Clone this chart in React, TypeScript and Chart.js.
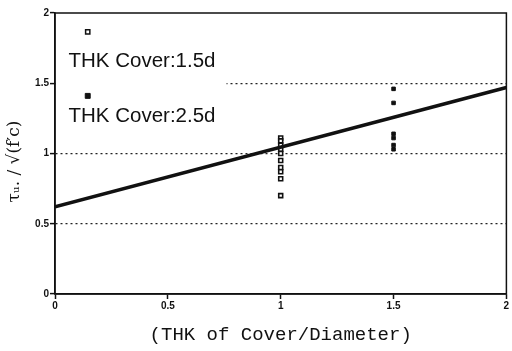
import React, { useEffect, useRef } from "react";
import { Chart, registerables } from "chart.js";

Chart.register(...registerables);

const xTicks = [0, 0.5, 1, 1.5, 2];
const yTicks = [0, 0.5, 1, 1.5, 2];
const xTickLabels = ["0", "0.5", "1", "1.5", "2"];
const yTickLabels = ["0", "0.5", "1", "1.5", "2"];

const fitX = [0, 2];
const fitY = [0.62, 1.47];

const openX = 1;
const openValues = [1.11, 1.09, 1.06, 1.03, 1.0, 0.95, 0.9, 0.87, 0.82, 0.7];

const filledX = 1.5;
const filledValues = [1.46, 1.36, 1.14, 1.11, 1.06, 1.03];

const legendLabels = ["THK Cover:1.5d", "THK Cover:2.5d"];
const legendMarkerX = [0.145, 0.145];
const legendMarkerY = [1.865, 1.41];
const legendTextY = [1.615, 1.224];

const xTitle = "(THK of Cover/Diameter)";
const yTitle = "τᵤ. / √(f′c)   ";

export default function App() {
  const ref = useRef<HTMLCanvasElement | null>(null);

  useEffect(() => {
    document.body.style.margin = "0";
    const canvas = ref.current;
    if (!canvas) return;

    const legendPlugin = {
      id: "legendPlugin",
      beforeDatasetsDraw(chart: any) {
        const { ctx, scales } = chart;
        const xs = scales.x;
        const ys = scales.y;
        ctx.save();
        ctx.fillStyle = "#fff";
        const left = chart.chartArea.left + 1;
        ctx.fillRect(left, ys.getPixelForValue(1.93), xs.getPixelForValue(0.76) - left, ys.getPixelForValue(1.1) - ys.getPixelForValue(1.93));
        ctx.fillStyle = "#111";
        ctx.font = "20.5px 'Liberation Sans'";
        ctx.textBaseline = "alphabetic";
        ctx.textAlign = "left";
        legendLabels.forEach((t, i) => {
          ctx.fillText(t, xs.getPixelForValue(0.06), ys.getPixelForValue(legendTextY[i]));
        });
        ctx.restore();
      },
      afterDraw(chart: any) {
        const { ctx, chartArea } = chart;
        ctx.save();
        ctx.strokeStyle = "#111";
        ctx.lineWidth = 1.5;
        ctx.strokeRect(chartArea.left, chartArea.top, chartArea.right - chartArea.left, chartArea.bottom - chartArea.top);
        ctx.restore();
      },
    };

    const chart = new Chart(canvas, {
      type: "scatter",
      data: {
        datasets: [
          {
            type: "line",
            data: fitX.map((x, i) => ({ x, y: fitY[i] })),
            borderColor: "#111",
            borderWidth: 3.5,
            pointRadius: 0,
            fill: false,
          } as any,
          {
            data: openValues.map((y) => ({ x: openX, y })),
            pointStyle: "rect",
            pointRadius: 2.8,
            borderColor: "#111",
            borderWidth: 1.6,
            backgroundColor: "#fff",
          },
          {
            data: filledValues.map((y) => ({ x: filledX, y })),
            pointStyle: "rect",
            pointRadius: 2.5,
            borderColor: "#111",
            borderWidth: 1,
            backgroundColor: "#111",
          },
          {
            data: [{ x: legendMarkerX[0], y: legendMarkerY[0] }],
            pointStyle: "rect",
            pointRadius: 3,
            borderColor: "#111",
            borderWidth: 1.5,
            backgroundColor: "#fff",
          },
          {
            data: [{ x: legendMarkerX[1], y: legendMarkerY[1] }],
            pointStyle: "rect",
            pointRadius: 3.5,
            borderColor: "#111",
            borderWidth: 1,
            backgroundColor: "#111",
          },
        ],
      },
      options: {
        animation: false,
        responsive: false,
        maintainAspectRatio: false,
        layout: { padding: { top: 13, right: 2, left: 0, bottom: 0 } },
        plugins: {
          legend: { display: false },
          tooltip: { enabled: false },
        },
        scales: {
          x: {
            type: "linear",
            min: 0,
            max: 2,
            afterBuildTicks: (s: any) => {
              s.ticks = xTicks.map((v) => ({ value: v }));
            },
            afterFit: (s: any) => {
              s.height = 57;
            },
            ticks: {
              callback: (v: any) => {
                const i = xTicks.indexOf(Number(v));
                return i >= 0 ? xTickLabels[i] : "";
              },
              color: "#111",
              font: { family: "'Liberation Sans'", size: 10, weight: "bold" },
              padding: 1,
              maxRotation: 0,
              autoSkip: false,
            },
            grid: {
              drawOnChartArea: false,
              drawTicks: true,
              tickLength: 5,
              tickColor: "#111",
              tickWidth: 1.5,
            },
            border: { color: "#111", width: 1.5 },
            title: {
              display: true,
              text: xTitle,
              color: "#111",
              font: { family: "'Liberation Mono'", size: 19 },
              padding: { top: 0, bottom: 5 },
            },
          },
          y: {
            type: "linear",
            min: 0,
            max: 2,
            afterBuildTicks: (s: any) => {
              s.ticks = yTicks.map((v) => ({ value: v }));
            },
            afterFit: (s: any) => {
              s.width = 55;
            },
            ticks: {
              callback: (v: any) => {
                const i = yTicks.indexOf(Number(v));
                return i >= 0 ? yTickLabels[i] : "";
              },
              color: "#111",
              font: { family: "'Liberation Sans'", size: 10, weight: "bold" },
              padding: 1,
              autoSkip: false,
            },
            grid: {
              drawTicks: true,
              tickLength: 5,
              tickColor: "#111",
              tickWidth: 1.5,
              tickBorderDash: [],
              color: (c: any) => (c.tick && (c.tick.value === 0 || c.tick.value === 2) ? "rgba(0,0,0,0)" : "#222"),
              lineWidth: 1.2,
            },
            border: { color: "#111", width: 1.5, dash: [2, 3] } as any,
            title: {
              display: true,
              text: yTitle,
              color: "#111",
              font: { family: "'DejaVu Serif'", size: 17 },
              padding: { top: 4, bottom: 0 },
            },
          },
        },
      } as any,
      plugins: [legendPlugin],
    });

    return () => chart.destroy();
  }, []);

  return (
    <div style={{ width: 512, height: 351 }}>
      <canvas ref={ref} width={512} height={351} style={{ display: "block" }} />
    </div>
  );
}
